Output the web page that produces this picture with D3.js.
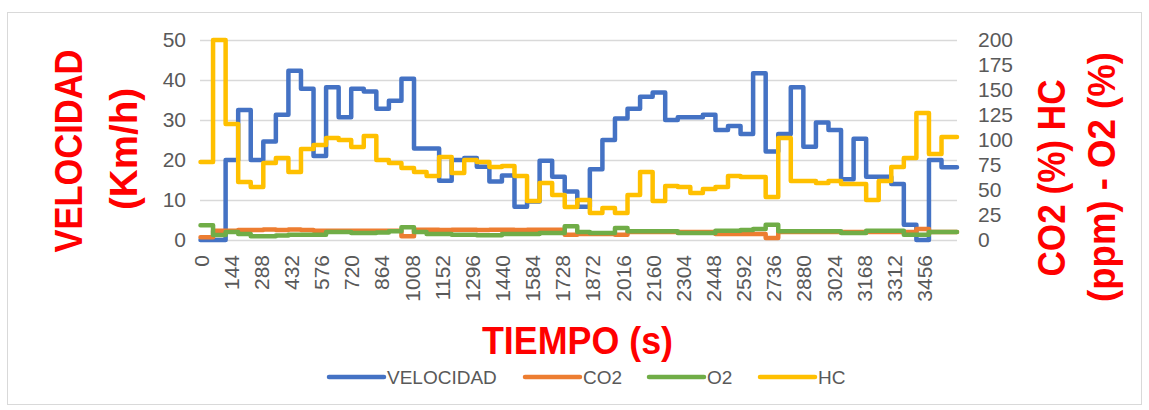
<!DOCTYPE html>
<html lang="es">
<head>
<meta charset="UTF-8">
<title>Velocidad y emisiones</title>
<script src="https://d3js.org/d3.v7.min.js"></script>
<style>
  body { margin: 0; background: #fff; }
  .tick text {
    font-family: "Liberation Sans", Arial, sans-serif;
    font-size: 21px;
    fill: #595959;
  }
  .title {
    font-family: "Liberation Sans", Arial, sans-serif;
    font-weight: bold;
    font-size: 38px;
    fill: #ff0000;
  }
  .legend text {
    font-family: "Liberation Sans", Arial, sans-serif;
    font-size: 19px;
    fill: #595959;
  }
  .serie { fill: none; stroke-width: 4.5px; stroke-linejoin: round; stroke-linecap: round; }
</style>
</head>
<body>
<div id="chart"></div>
<script>
// start of each minute (s)
const tiempo = [0, 60, 120, 180, 240, 300, 360, 420, 480, 540,
  600, 660, 720, 780, 840, 900, 960, 1020, 1080, 1140,
  1200, 1260, 1320, 1380, 1440, 1500, 1560, 1620, 1680, 1740,
  1800, 1860, 1920, 1980, 2040, 2100, 2160, 2220, 2280, 2340,
  2400, 2460, 2520, 2580, 2640, 2700, 2760, 2820, 2880, 2940,
  3000, 3060, 3120, 3180, 3240, 3300, 3360, 3420, 3480, 3540];
const tiempoFin = 3614;

const velocidad = [0, 0, 20, 32.5, 20, 24.6, 31.3, 42.3, 37.8, 21,
  38.2, 30.7, 37.8, 37.1, 32.8, 34.8, 40.3, 22.9, 22.9, 14.8,
  20, 20.5, 18.3, 14.6, 16.1, 8.3, 9.6, 19.8, 15.8, 12.1,
  8.3, 17.7, 25, 30.4, 32.8, 35.8, 36.9, 30, 30.7, 30.7,
  31.3, 27.5, 28.5, 26.5, 41.7, 22.1, 26.5, 38.2, 23.3, 29.4,
  27.5, 15.2, 25.3, 15.8, 15.8, 14, 3.8, 0, 20, 18.2];

const co2 = [2.7, 9.3, 9.3, 10, 10, 10.5, 10, 10.5, 10, 9.3,
  9.3, 9.3, 9.3, 9.3, 9.3, 9.3, 3.7, 10.3, 10.3, 10,
  10.3, 10.3, 10, 10.3, 10.3, 10, 10.3, 10.3, 10.3, 5.3,
  6, 6, 6, 5.3, 8, 8, 8, 8, 8, 8,
  8, 6, 6, 6, 6, 2, 8, 8, 8, 8,
  8, 8, 8, 8, 8, 8, 8, 11, 8, 8];

const o2 = [14.7, 5, 8, 6, 3.7, 3.7, 4.5, 5.3, 5.3, 5.3,
  8, 8, 7, 7, 7.5, 8.7, 12.7, 8, 6, 6,
  5.3, 5.3, 4.7, 4.7, 6, 6, 6, 7, 7, 13.7,
  8, 7, 7, 12, 8.7, 8.7, 8.7, 8.7, 7, 7,
  7, 9.3, 9.3, 10, 11, 15.3, 8.7, 8.7, 8.7, 8.7,
  8.7, 7, 7, 9.3, 9.3, 9.3, 5.3, 5.3, 8, 8];

const hc = [78, 200, 116, 58, 53, 77, 82, 68, 91, 95,
  102, 100, 93, 104, 80, 77, 72, 68, 64, 83,
  67, 80, 78, 73, 74, 64, 39, 57, 45, 33,
  40, 27, 32, 27, 45, 68, 39, 54, 53, 47,
  51, 53, 64, 63, 63, 43, 102, 59, 59, 57,
  59, 56, 56, 40, 59, 73, 82, 127, 86, 103];

const xTicks = [0, 144, 288, 432, 576, 720, 864, 1008, 1152, 1296, 1440, 1584, 1728,
  1872, 2016, 2160, 2304, 2448, 2592, 2736, 2880, 3024, 3168, 3312, 3456];
const leftTicks = [0, 10, 20, 30, 40, 50];
const rightTicks = [0, 25, 50, 75, 100, 125, 150, 175, 200];

const series = [
  { name: "VELOCIDAD", values: velocidad, axis: "left", color: "#4472c4" },
  { name: "CO2", values: co2, axis: "right", color: "#ed7d31" },
  { name: "O2", values: o2, axis: "right", color: "#70ad47" },
  { name: "HC", values: hc, axis: "right", color: "#ffc000" }
];

const W = 1149, H = 410;
const plot = { left: 200, right: 957, top: 40, bottom: 240 };

const svg = d3.select("#chart").append("svg")
    .attr("width", W)
    .attr("height", H);

// chart border
svg.append("rect")
    .attr("x", 7.5).attr("y", 12.5)
    .attr("width", 1134).attr("height", 392)
    .attr("fill", "#fff")
    .attr("stroke", "#d9d9d9");

const x = d3.scaleLinear().domain([0, tiempoFin]).range([plot.left + 0.5, plot.right]);
const yL = d3.scaleLinear().domain([0, 50]).range([plot.bottom, plot.top]);
const yR = d3.scaleLinear().domain([0, 200]).range([plot.bottom, plot.top]);

// gridlines
svg.append("g")
    .attr("transform", "translate(" + plot.left + ",0)")
    .call(d3.axisLeft(yL).tickValues(leftTicks).tickSize(-(plot.right - plot.left)).tickFormat(""))
    .call(g => g.select(".domain").remove())
    .call(g => g.selectAll("line").attr("stroke", "#d9d9d9").attr("stroke-width", 1.3));

// left axis
svg.append("g")
    .attr("transform", "translate(" + plot.left + ",0)")
    .call(d3.axisLeft(yL).tickValues(leftTicks).tickSize(0).tickPadding(14))
    .call(g => g.select(".domain").remove());

// right axis
svg.append("g")
    .attr("transform", "translate(" + plot.right + ",0)")
    .call(d3.axisRight(yR).tickValues(rightTicks).tickSize(0).tickPadding(21))
    .call(g => g.select(".domain").remove());

// bottom axis, labels rotated
svg.append("g")
    .attr("transform", "translate(0," + plot.bottom + ")")
    .call(d3.axisBottom(x).tickValues(xTicks).tickSize(0).tickFormat(d3.format("d")))
    .call(g => g.select(".domain").remove())
    .call(g => g.selectAll("text")
        .attr("transform", "rotate(-90)")
        .attr("text-anchor", "end")
        .attr("x", -15)
        .attr("y", 0)
        .attr("dy", "0.36em"));

// series (one value per minute, held as steps)
series.forEach(s => {
  const y = s.axis === "left" ? yL : yR;
  const pts = tiempo.map((t, i) => [t, s.values[i]]);
  pts.push([tiempoFin, s.values[s.values.length - 1]]);
  const line = d3.line()
      .x(d => x(d[0]))
      .y(d => y(d[1]))
      .curve(d3.curveStepAfter);
  svg.append("path")
      .datum(pts)
      .attr("class", "serie")
      .attr("stroke", s.color)
      .attr("d", line);
});

// axis titles
svg.append("text").attr("class", "title")
    .attr("transform", "translate(82,151) rotate(-90)")
    .attr("text-anchor", "middle")
    .attr("textLength", 203).attr("lengthAdjust", "spacingAndGlyphs")
    .text("VELOCIDAD");
svg.append("text").attr("class", "title")
    .attr("transform", "translate(137,149) rotate(-90)")
    .attr("text-anchor", "middle")
    .attr("textLength", 122).attr("lengthAdjust", "spacingAndGlyphs")
    .text("(Km/h)");
svg.append("text").attr("class", "title")
    .attr("transform", "translate(1065,178) rotate(-90)")
    .attr("text-anchor", "middle")
    .attr("textLength", 197).attr("lengthAdjust", "spacingAndGlyphs")
    .text("CO2 (%) HC");
svg.append("text").attr("class", "title")
    .attr("transform", "translate(1115,177) rotate(-90)")
    .attr("text-anchor", "middle")
    .attr("textLength", 250).attr("lengthAdjust", "spacingAndGlyphs")
    .text("(ppm) - O2 (%)");
svg.append("text").attr("class", "title")
    .attr("x", 577.5).attr("y", 354)
    .attr("text-anchor", "middle")
    .attr("textLength", 191).attr("lengthAdjust", "spacingAndGlyphs")
    .text("TIEMPO (s)");

// legend
const legendX = [329, 525, 649, 760];
const legend = svg.append("g").attr("class", "legend");
series.forEach((s, i) => {
  legend.append("line")
      .attr("x1", legendX[i]).attr("x2", legendX[i] + 55)
      .attr("y1", 377).attr("y2", 377)
      .attr("stroke", s.color)
      .attr("stroke-width", 4.5)
      .attr("stroke-linecap", "round");
  legend.append("text")
      .attr("x", legendX[i] + 58)
      .attr("y", 384)
      .text(s.name);
});
</script>
</body>
</html>
